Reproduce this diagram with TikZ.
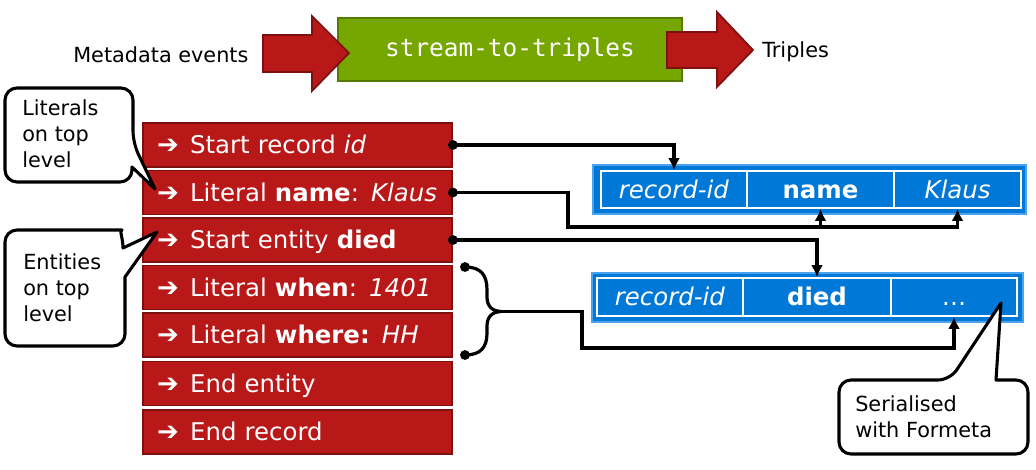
\documentclass[tikz,border=0pt]{standalone}
\usepackage{fontspec}
\setmainfont{DejaVu Sans}
\newfontfamily\monof{DejaVu Sans Mono}
\usetikzlibrary{arrows.meta,calc}
\definecolor{evred}{HTML}{B81818}
\definecolor{evredd}{HTML}{7E1010}
\definecolor{stgreen}{HTML}{76A600}
\definecolor{stgreend}{HTML}{557A00}
\definecolor{tblue}{HTML}{0078D7}
\definecolor{tbluel}{HTML}{4AA3EE}
\newcommand{\evarr}{{\bfseries\fontsize{19.5}{22}\selectfont ➔}\hspace{8.5pt}}
\begin{document}
\begin{tikzpicture}[x=0.75pt,y=-0.75pt,
  lbl/.style={inner sep=0pt, font=\fontsize{15.6}{19.5}\selectfont, align=left},
  evbox/.style={draw=evredd, fill=evred, line width=1.4pt, minimum width=231.75pt, minimum height=33pt,
     inner xsep=10.5pt, text width=210.75pt, align=left, text height=13.3pt, text depth=0pt,
     text=white, font=\fontsize{18.3}{22}\selectfont},
  outerb/.style={draw=tbluel, fill=tblue, line width=1pt, minimum height=36.75pt},
  cell/.style={draw=white, fill=tblue, line width=1.4pt, text=white, inner sep=0pt,
     text height=13.3pt, text depth=0pt, font=\fontsize{18.3}{22}\selectfont},
  conn/.style={line width=2.4pt, black},
  tipd/.style={-{Latex[length=9pt,width=9pt]}},
  callout/.style={draw=black, fill=white, line width=2.3pt, line join=round},
  bigarrow/.style={fill=evred, draw=evredd, line width=1.3pt, line join=miter}
]
\useasboundingbox (0,0) rectangle (1036,469);

% top process
\node[draw=stgreend, fill=stgreen, line width=1.4pt, minimum width=258pt, minimum height=47.25pt,
      text=white, text height=10pt, text depth=0pt, font=\monof\fontsize{18.3}{22}\selectfont]
      (proc) at (510,49.5) {stream-to-triples};
\draw[bigarrow] (263,35) -- (312,35) -- (312,16) -- (349,53) -- (312,91) -- (312,72) -- (263,72) -- cycle;
\draw[bigarrow] (667,32) -- (717,32) -- (717,12) -- (753,50) -- (717,87) -- (717,68) -- (667,68) -- cycle;
\node[lbl, anchor=base west] (inlbl) at (73,62) {Metadata events};
\node[lbl, anchor=base west] (outlbl) at (762,57) {Triples};

% event boxes
\node[evbox] (e1) at (297.5,145) {\evarr Start record \textit{id}};
\node[evbox] (e2) at (297.5,192.5) {\evarr Literal \textbf{name}: \textit{Klaus}};
\node[evbox] (e3) at (297.5,240) {\evarr Start entity \textbf{died}};
\node[evbox] (e4) at (297.5,287.5) {\evarr Literal \textbf{when}: \textit{1401}};
\node[evbox] (e5) at (297.5,335) {\evarr Literal \textbf{where:} \textit{HH}};
\node[evbox] (e6) at (297.5,383.5) {\evarr End entity};
\node[evbox] (e7) at (297.5,432) {\evarr End record};

% triple 1
\node[outerb, minimum width=324.75pt] (t1) at (809.5,189.5) {};
\node[cell, minimum width=109.5pt, minimum height=27.75pt] (r1a) at (674,189.5) {\textit{record-id}};
\node[cell, minimum width=110.25pt, minimum height=27.75pt] (r1b) at (820.5,189.5) {\textbf{name}};
\node[cell, minimum width=95.25pt, minimum height=27.75pt] (r1c) at (957.5,189.5) {\textit{Klaus}};
% triple 2
\node[outerb, minimum width=323.25pt] (t2) at (807.5,297.5) {};
\node[cell, minimum width=109.5pt, minimum height=28.5pt] (r2a) at (670,297) {\textit{record-id}};
\node[cell, minimum width=111pt, minimum height=28.5pt] (r2b) at (817,297) {\textbf{died}};
\node[cell, minimum width=94.5pt, minimum height=28.5pt] (r2c) at (954,297) {…};

% connectors
\coordinate (j2) at (568,227);
\coordinate (b1) at (465,267);
\coordinate (b2) at (465,355);
\coordinate (bt) at (502,311.5);
\coordinate (j4) at (582,348);
\draw[conn, tipd] (e1.east) -| (r1a.north);
\draw[conn, tipd] (e2.east) -| (j2) -| (r1c.south);
\draw[conn, tipd] (j2 -| r1b.south) -- (r1b.south);
\draw[conn, tipd] (e3.east) -| (r2b.north);
\draw[conn, line join=round] (b1) .. controls (481,267) and (487,275) .. (487,290) -- (487,297)
      .. controls (487,306) and (492,311.5) .. (bt)
      .. controls (492,311.5) and (487,317) .. (487,326) -- (487,333)
      .. controls (487,347) and (481,355) .. (b2);
\draw[conn, tipd] (bt) -| (j4) -| (r2c.south);
\foreach \p in {e1.east,e2.east,e3.east,b1,b2} \fill (\p) circle[radius=3.7pt];

% callouts
\draw[callout] (5,135) [rounded corners=9pt] -- (5,88) -- (133,88) -- (133,143) [sharp corners] -- (155,189) -- (132,167)
      [rounded corners=9pt] -- (132,182) -- (5,182) -- cycle;
\node[lbl, anchor=west] (c1) at (22,134) {Literals\\on top\\level};
\draw[callout] (5,290) [rounded corners=9pt] -- (5,230) -- (110,230) [sharp corners]
      .. controls (119,230) and (123,238) .. (123,248) -- (157,232) -- (125,277)
      [rounded corners=9pt] -- (125,346) -- (5,346) -- cycle;
\node[lbl, anchor=west] (c2) at (23,288) {Entities\\on top\\level};
\draw[callout] (839,420) [rounded corners=9pt] -- (839,380) -- (950,380) [sharp corners] -- (1001,303) -- (996,380)
      [rounded corners=9pt] -- (1028,380) -- (1028,454) -- (839,454) -- cycle;
\node[lbl, anchor=west] (c3) at (855,417) {Serialised\\with Formeta};
\end{tikzpicture}
\end{document}
